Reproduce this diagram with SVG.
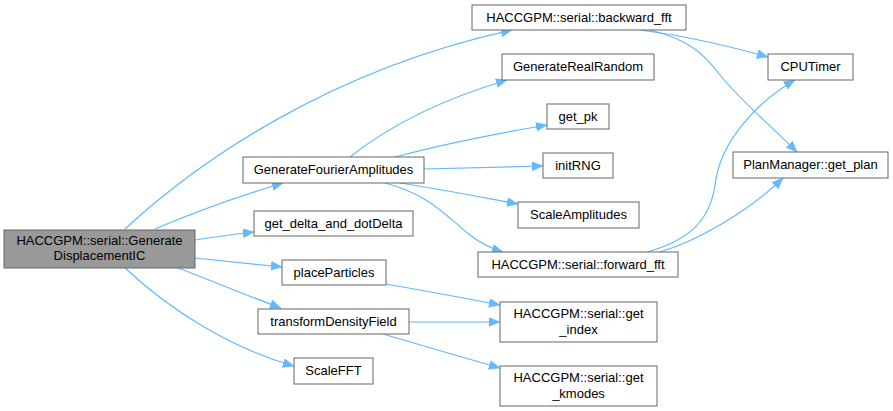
<svg xmlns="http://www.w3.org/2000/svg" width="893" height="411" viewBox="0 0 893 411">
<style>
.n rect{fill:#ffffff;stroke:#666666;stroke-width:1}
.n.main rect{fill:#999999}
.n text{font-family:"Liberation Sans",Arial,sans-serif;font-size:13px;fill:#000000;text-anchor:middle}
.e path{fill:none;stroke:#63b8ff;stroke-width:1.2}
</style>
<defs>
<marker id="ah" markerUnits="userSpaceOnUse" markerWidth="12" markerHeight="10" refX="11" refY="4.5" orient="auto">
<path d="M0,0 L11,4.5 L0,9 z" fill="#63b8ff" stroke="#63b8ff" stroke-width="0.5"/>
</marker>
</defs>
<rect width="893" height="411" fill="#ffffff"/>
<g class="e" id="edges">
<path marker-end="url(#ah)" d="M125,229 C200,160 330,70 512,30"/>
<path marker-end="url(#ah)" d="M155,229 C195,212 240,196 283,183"/>
<path marker-end="url(#ah)" d="M195,240 C215,237 235,234 254,232"/>
<path marker-end="url(#ah)" d="M195,258 C225,261 255,264 282,267"/>
<path marker-end="url(#ah)" d="M178,268 C210,280 248,296 281,308"/>
<path marker-end="url(#ah)" d="M125,268 C170,310 230,348 294,366"/>
<path marker-end="url(#ah)" d="M350,157 C390,125 440,100 507,80"/>
<path marker-end="url(#ah)" d="M395,157 C440,145 500,133 547,125"/>
<path marker-end="url(#ah)" d="M424,169 C465,168 505,167 543,166"/>
<path marker-end="url(#ah)" d="M400,183 C440,189 480,197 518,204"/>
<path marker-end="url(#ah)" d="M385,183 C430,195 445,215 470,235 C480,243 490,248 503,252"/>
<path marker-end="url(#ah)" d="M640,30 C680,35 725,45 768,57"/>
<path marker-end="url(#ah)" d="M650,30 C690,40 705,55 720,75 C740,100 770,125 797,152"/>
<path marker-end="url(#ah)" d="M647,252 C690,240 710,220 715,185 C720,140 760,100 795,80"/>
<path marker-end="url(#ah)" d="M660,252 C700,240 750,210 783,178"/>
<path marker-end="url(#ah)" d="M386,284 C425,291 465,298 500,305"/>
<path marker-end="url(#ah)" d="M409,322 L500,322"/>
<path marker-end="url(#ah)" d="M383,334 C420,345 465,358 500,368"/>
</g>
<g class="n main" id="n_main"><rect x="4" y="230" width="191" height="38"/><text x="99.5" y="245">HACCGPM::serial::Generate</text><text x="99.5" y="260">DisplacementIC</text></g>
<g class="n" id="n_gfa"><rect x="243" y="157" width="181" height="26"/><text x="333.5" y="174">GenerateFourierAmplitudes</text></g>
<g class="n" id="n_gdd"><rect x="254" y="211" width="159" height="25"/><text x="333.5" y="228">get_delta_and_dotDelta</text></g>
<g class="n" id="n_pp"><rect x="282" y="260" width="104" height="25"/><text x="334" y="277">placeParticles</text></g>
<g class="n" id="n_tdf"><rect x="258" y="309" width="151" height="25"/><text x="333.5" y="326">transformDensityField</text></g>
<g class="n" id="n_sfft"><rect x="294" y="358" width="79" height="26"/><text x="333.5" y="375">ScaleFFT</text></g>
<g class="n" id="n_bfft"><rect x="472" y="5" width="214" height="25"/><text x="579" y="22">HACCGPM::serial::backward_fft</text></g>
<g class="n" id="n_grr"><rect x="502" y="54" width="152" height="26"/><text x="578" y="71">GenerateRealRandom</text></g>
<g class="n" id="n_gpk"><rect x="547" y="104" width="62" height="25"/><text x="578" y="121">get_pk</text></g>
<g class="n" id="n_irng"><rect x="543" y="153" width="70" height="25"/><text x="578" y="170">initRNG</text></g>
<g class="n" id="n_sa"><rect x="518" y="202" width="121" height="26"/><text x="578.5" y="219">ScaleAmplitudes</text></g>
<g class="n" id="n_ffft"><rect x="478" y="252" width="200" height="25"/><text x="578" y="269">HACCGPM::serial::forward_fft</text></g>
<g class="n" id="n_gi"><rect x="500" y="302" width="157" height="40"/><text x="578.5" y="318">HACCGPM::serial::get</text><text x="578.5" y="334">_index</text></g>
<g class="n" id="n_gk"><rect x="500" y="366" width="157" height="40"/><text x="578.5" y="382">HACCGPM::serial::get</text><text x="578.5" y="398">_kmodes</text></g>
<g class="n" id="n_cpu"><rect x="768" y="54" width="85" height="26"/><text x="810.5" y="71">CPUTimer</text></g>
<g class="n" id="n_gp"><rect x="733" y="152" width="155" height="26"/><text x="810.5" y="169">PlanManager::get_plan</text></g>
</svg>
